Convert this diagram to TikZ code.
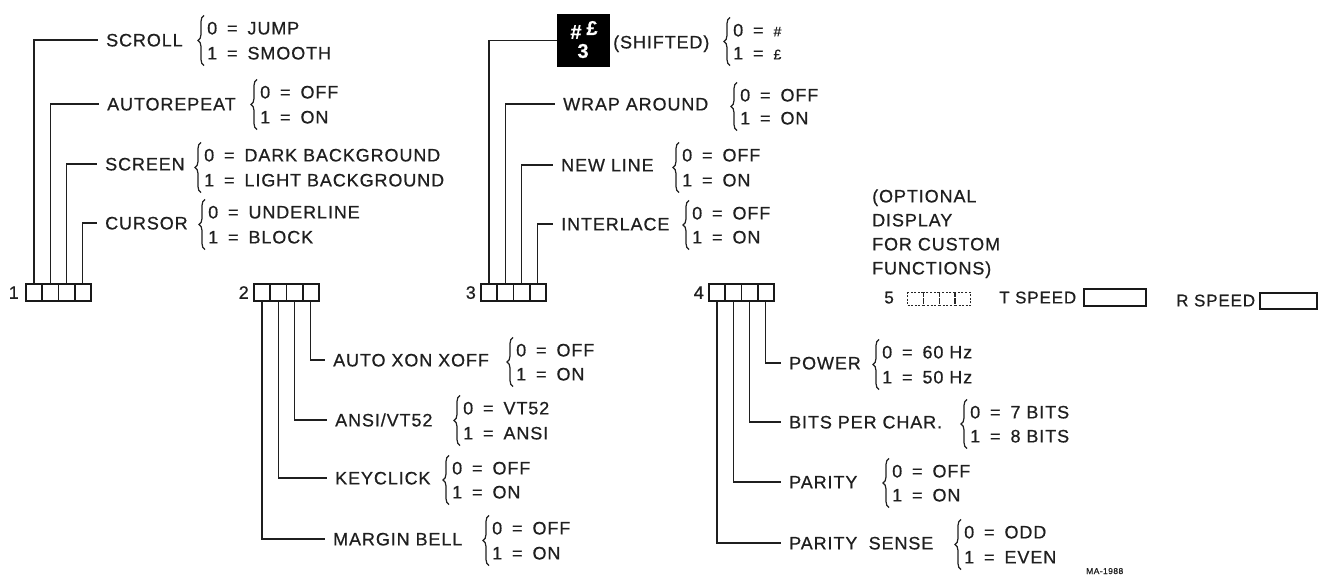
\documentclass[tikz,border=0pt]{standalone}
\usepackage{fontspec}
\setmainfont{Liberation Sans}[LetterSpace=5, FakeBold=0.6]
\usetikzlibrary{decorations.pathreplacing}
\newcommand\EQ{\hspace{0.55em}=\hspace{0.55em}}
\newcommand\smallsym[1]{{\fontsize{14}{15}\selectfont #1}}
\newcommand\opts[6]{%
  \node[opt] (#1a) at (#2,#3) {#5};
  \node[opt] (#1b) at (#2,#4) {#6};
  \draw[brc] ([xshift=-3pt,yshift=-6pt]#1b.south west) -- ([xshift=-3pt,yshift=6pt]#1a.north west);
}
\newcommand\cells[3]{%
  \foreach \k in {1,...,4} {\node[cell] (#1\k) at ({#2+16.25*(\k-1)},#3) {};}
}
\tikzset{
  txt/.style={anchor=west, inner sep=0pt, text height=12.8pt, text depth=0pt,
    font=\fontsize{18}{20}\selectfont, text=black!88},
  lbl/.style={txt, inner xsep=8pt},
  opt/.style={txt},
  spd/.style={txt, font=\fontsize{17}{20}\selectfont},
  cell/.style={draw=black!90, line width=1.8pt, minimum width=16.25pt, minimum height=17pt,
    inner sep=0pt, anchor=north west},
  dcell/.style={draw=black!85, line width=1.3pt, dash pattern=on 2pt off 1.6pt,
    minimum width=15.75pt, minimum height=13pt, inner sep=0pt, anchor=north west},
  sbox/.style={draw=black!90, line width=2.2pt, inner sep=0pt, anchor=north west},
  wire/.style={line width=1.3pt, black!88},
  brc/.style={decorate, decoration={brace, amplitude=6pt}, line width=1.2pt, black!88},
  keybox/.style={fill=black, minimum width=53pt, minimum height=53pt, inner sep=0pt},
  keytxt/.style={inner sep=0pt, text=white, font=\fontsize{20}{21}\selectfont\bfseries},
}
\begin{document}
\begin{tikzpicture}[x=1pt,y=-1pt]
\fill[white] (0,0) rectangle (1319,576);
\useasboundingbox (0,0) rectangle (1319,576);

% ---------- group 1
\cells{ca}{25}{283}
\node[txt, anchor=east] (n1) at ([xshift=-6pt]ca1.west) {1};
\node[lbl] (scroll) at (98,40) {SCROLL};
\opts{scroll}{207}{28}{53}{0\EQ JUMP}{1\EQ SMOOTH}
\node[lbl] (autorep) at (99,104) {AUTOREPEAT};
\opts{autorep}{260}{92}{117}{0\EQ OFF}{1\EQ ON}
\node[lbl] (screen) at (97,164) {SCREEN};
\opts{screen}{204}{155}{180}{0\EQ DARK BACKGROUND}{1\EQ LIGHT BACKGROUND}
\node[lbl] (cursor) at (97,223) {CURSOR};
\opts{cursor}{208}{212}{237}{0\EQ UNDERLINE}{1\EQ BLOCK}
\draw[wire] (ca1.north) |- (scroll.west);
\draw[wire] (ca2.north) |- (autorep.west);
\draw[wire] (ca3.north) |- (screen.west);
\draw[wire] (ca4.north) |- (cursor.west);

% ---------- group 2
\cells{cb}{253}{283}
\node[txt, anchor=east] (n2) at ([xshift=-4pt]cb1.west) {2};
\node[lbl] (autoxon) at (325,360) {AUTO XON XOFF};
\opts{autoxon}{516}{350}{374}{0\EQ OFF}{1\EQ ON}
\node[lbl] (ansi) at (327,420) {ANSI/VT52};
\opts{ansi}{463}{408}{433}{0\EQ VT52}{1\EQ ANSI}
\node[lbl] (keyclick) at (327,478) {KEYCLICK};
\opts{keyclick}{452}{468}{492}{0\EQ OFF}{1\EQ ON}
\node[lbl] (mbell) at (325,539) {MARGIN BELL};
\opts{mbell}{492}{528}{553}{0\EQ OFF}{1\EQ ON}
\draw[wire] (cb4.south) |- (autoxon.west);
\draw[wire] (cb3.south) |- (ansi.west);
\draw[wire] (cb2.south) |- (keyclick.west);
\draw[wire] (cb1.south) |- (mbell.west);

% ---------- group 3
\cells{cc}{480}{283}
\node[txt, anchor=east] (n3) at ([xshift=-4pt]cc1.west) {3};
\node[keybox] (key) at (583.5,40.5) {};
\node[keytxt] (khash) at (576,32) {\#};
\node[keytxt] (kpound) at (592,28) {£};
\node[keytxt] (kthree) at (583,51) {3};
\node[lbl, inner xsep=4pt] (shifted) at (609,42) {(SHIFTED)};
\opts{shifted}{733}{30}{53}{0\EQ\smallsym{\#}}{1\EQ\smallsym{£}}
\node[lbl] (wrap) at (555,104) {WRAP AROUND};
\opts{wrap}{740}{95}{118}{0\EQ OFF}{1\EQ ON}
\node[lbl] (newline) at (553,165) {NEW LINE};
\opts{newline}{682}{155}{180}{0\EQ OFF}{1\EQ ON}
\node[lbl] (interlace) at (553,224) {INTERLACE};
\opts{interlace}{692}{213}{237}{0\EQ OFF}{1\EQ ON}
\draw[wire] (cc1.north) |- (key.west);
\draw[wire] (cc2.north) |- (wrap.west);
\draw[wire] (cc3.north) |- (newline.west);
\draw[wire] (cc4.north) |- (interlace.west);

% ---------- group 4
\cells{cd}{708}{283}
\node[txt, anchor=east] (n4) at ([xshift=-4pt]cd1.west) {4};
\node[lbl] (power) at (781,363) {POWER};
\opts{power}{882}{352}{377}{0\EQ 60 Hz}{1\EQ 50 Hz}
\node[lbl] (bits) at (781,422) {BITS PER CHAR.};
\opts{bits}{970}{412}{436}{0\EQ 7 BITS}{1\EQ 8 BITS}
\node[lbl] (parity) at (781,482) {PARITY};
\opts{parity}{892}{471}{495}{0\EQ OFF}{1\EQ ON}
\node[lbl] (psense) at (781,543) {PARITY\hspace{0.3em} SENSE};
\opts{psense}{964}{532}{557}{0\EQ ODD}{1\EQ EVEN}
\draw[wire] (cd4.south) |- (power.west);
\draw[wire] (cd3.south) |- (bits.west);
\draw[wire] (cd2.south) |- (parity.west);
\draw[wire] (cd1.south) |- (psense.west);

% ---------- optional display
\node[txt] (op1) at (872,196) {(OPTIONAL};
\node[txt] (op2) at (872,220) {DISPLAY};
\node[txt] (op3) at (872,244) {FOR CUSTOM};
\node[txt] (op4) at (872,268) {FUNCTIONS)};
\foreach \k in {1,...,4} {\node[dcell] (d\k) at ({907+15.75*(\k-1)},292) {};}
\node[spd, anchor=east] (n5) at (894,297) {5};
\node[spd] (tspeed) at (999,297) {T SPEED};
\node[sbox, minimum width=62pt, minimum height=17pt] (tbox) at (1083,288) {};
\node[spd] (rspeed) at (1176,300) {R SPEED};
\node[sbox, minimum width=57pt, minimum height=16pt] (rbox) at (1259,292) {};

\node[txt, text height=6pt, font=\fontsize{8.5}{9}\selectfont] (ma) at (1086,571) {MA-1988};
\end{tikzpicture}
\end{document}
